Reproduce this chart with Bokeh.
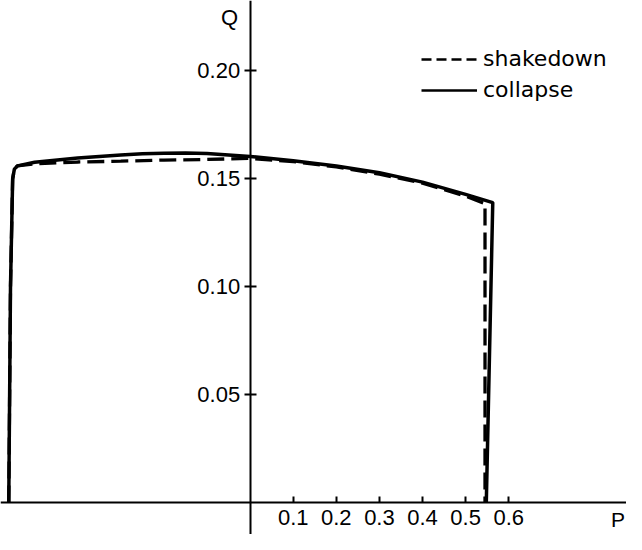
from bokeh.plotting import figure
from bokeh.models import Range1d, FixedTicker, Label, Legend, LegendItem
from bokeh.embed import file_html
from bokeh.resources import INLINE

# collapse curve (solid)
collapse_p = [-0.560, -0.556, -0.551, -0.547, -0.540, -0.50, -0.40, -0.30, -0.25, -0.20, -0.15,
              -0.10, 0.00, 0.10, 0.20, 0.30, 0.40, 0.50, 0.563, 0.548]
collapse_q = [0.000, 0.100, 0.150, 0.1545, 0.156, 0.1577, 0.1597, 0.1611, 0.1616, 0.1619, 0.1620,
              0.1617, 0.1604, 0.1584, 0.1560, 0.1528, 0.1485, 0.1428, 0.1390, 0.000]

# shakedown curve (dashed)
shakedown_p = [-0.560, -0.556, -0.551, -0.547, -0.540, -0.50, -0.40, -0.30, -0.20, -0.10, 0.00,
               0.10, 0.20, 0.30, 0.40, 0.50, 0.545, 0.545]
shakedown_q = [0.000, 0.100, 0.150, 0.1545, 0.156, 0.1570, 0.1578, 0.1582, 0.1587, 0.1590, 0.1595,
               0.1580, 0.1555, 0.1522, 0.1480, 0.1420, 0.1385, 0.000]

x_ticks = [0.1, 0.2, 0.3, 0.4, 0.5, 0.6]
x_tick_labels = ["0.1", "0.2", "0.3", "0.4", "0.5", "0.6"]
y_ticks = [0.05, 0.10, 0.15, 0.20]
y_tick_labels = ["0.05", "0.10", "0.15", "0.20"]

TICK_FONT = "Liberation Sans"
TICK_FS = "22px"
LEG_FONT = "DejaVu Sans"
LEG_FS = "22px"
AX_FONT = "Liberation Sans"
AX_FS = "22px"

p = figure(width=626, height=534, output_backend="svg", toolbar_location=None,
           x_range=Range1d(-0.57919, 0.87330), y_range=Range1d(-0.014851, 0.23267),
           min_border=0)
p.outline_line_color = None
p.grid.visible = False
p.background_fill_color = "white"

p.line(shakedown_p, shakedown_q, line_color="black", line_width=3.3, line_dash="17 7")
p.line(collapse_p, collapse_q, line_color="black", line_width=3.5)

# legend samples (single-point lines draw nothing in the plot)
leg_sd = p.line(shakedown_p[:1], shakedown_q[:1], line_color="black", line_width=2.5, line_dash="10 5")
leg_col = p.line(collapse_p[:1], collapse_q[:1], line_color="black", line_width=2.5)

# axes crossing at the origin
p.xaxis.fixed_location = 0
p.yaxis.fixed_location = 0

p.xaxis.ticker = FixedTicker(ticks=x_ticks)
p.xaxis.major_label_overrides = dict(zip(x_ticks, x_tick_labels))
p.xaxis.major_tick_in = 6
p.xaxis.major_tick_out = 0
p.xaxis.major_label_standoff = 8

p.yaxis.ticker = FixedTicker(ticks=y_ticks)
p.yaxis.major_label_overrides = dict(zip(y_ticks, y_tick_labels))
p.yaxis.major_tick_in = 6
p.yaxis.major_tick_out = 6
p.yaxis.major_label_standoff = 4

for ax in (p.xaxis, p.yaxis):
    ax.minor_tick_line_color = None
    ax.axis_line_width = 2
    ax.axis_line_color = "black"
    ax.major_tick_line_width = 2
    ax.major_tick_line_color = "black"
    ax.major_label_text_font = TICK_FONT
    ax.major_label_text_font_size = TICK_FS
    ax.major_label_text_color = "black"

legend = Legend(items=[LegendItem(label="shakedown", renderers=[leg_sd]),
                       LegendItem(label="collapse", renderers=[leg_col])],
                location=(421, 432), border_line_color=None, background_fill_alpha=0,
                padding=0, margin=0, glyph_width=56, glyph_height=24, label_height=24,
                spacing=6, label_standoff=6, label_text_font=LEG_FONT,
                label_text_font_size=LEG_FS, label_text_color="black")
p.add_layout(legend)

p.add_layout(Label(x=-0.048, y=0.2246, text="Q", text_align="center", text_baseline="middle",
                   text_font=AX_FONT, text_font_size=AX_FS, text_color="black"))
p.add_layout(Label(x=0.870, y=0, y_offset=-6, text="P", text_align="right", text_baseline="top",
                   text_font=AX_FONT, text_font_size="21px", text_color="black"))

open("out.html", "w").write(file_html(p, INLINE))
